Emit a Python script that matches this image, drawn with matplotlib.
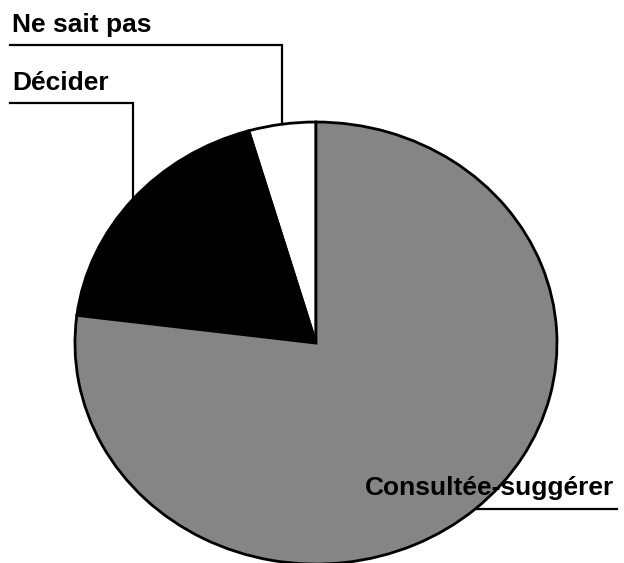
import numpy as np
import matplotlib.pyplot as plt

# slice data, counter-clockwise from 12 o'clock
labels = ['Ne sait pas', 'Décider', 'Consultée-suggérer']
values = [4.5, 18.5, 77.0]
colors = ['white', 'black', '#858585']

plt.rcParams['font.family'] = ['Liberation Sans', 'DejaVu Sans']

fig = plt.figure(figsize=(6.24, 5.63), dpi=100)
ax = fig.add_axes([0, 0, 1, 1])

wedges, _ = ax.pie(values, colors=colors, startangle=90, counterclock=True,
                   wedgeprops=dict(edgecolor='black', linewidth=2))
ax.set_aspect('auto')
ax.set_xlim(-1.311, 1.278)
ax.set_ylim(-0.995, 1.552)
ax.axis('off')


def edge_point(w):
    ang = np.deg2rad((w.theta1 + w.theta2) / 2)
    return np.cos(ang), np.sin(ang)


# labels at the top left with elbow leader lines
x_left = -1.27
for w, lab, y_line in zip(wedges[:2], labels[:2], [1.348, 1.086]):
    ex, ey = edge_point(w)
    ax.plot([x_left, ex, ex], [y_line, y_line, ey], color='black', lw=1.6,
            solid_joinstyle='miter', clip_on=False)
    ax.text(x_left + 0.01, y_line + 0.06, lab, fontsize=19, ha='left',
            va='baseline', fontweight='bold')

# big slice label
ex, ey = edge_point(wedges[2])
ax.plot([ex, 1.249], [ey, ey], color='black', lw=1.6, clip_on=False)
ax.text(0.203, -0.688, labels[2], fontsize=19, ha='left', va='baseline',
        fontweight='bold')

fig.savefig('out.png', dpi=100)
